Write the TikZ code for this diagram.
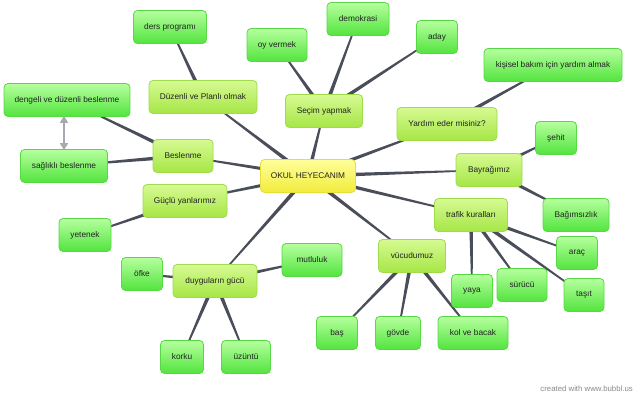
\documentclass[tikz,border=0pt]{standalone}
\usepackage{fontspec}
\setmainfont{Liberation Sans}
\usetikzlibrary{calc,backgrounds,arrows.meta}
\definecolor{txt}{HTML}{222222}
\definecolor{linkc}{HTML}{4A4D5A}
\definecolor{cTop}{HTML}{FFFF9A}
\definecolor{cBot}{HTML}{F2EC3C}
\definecolor{cBrd}{HTML}{E6DE3A}
\definecolor{lTop}{HTML}{D6FA92}
\definecolor{lBot}{HTML}{A6E646}
\definecolor{lBrd}{HTML}{9EDC4C}
\definecolor{gTop}{HTML}{B6FF9E}
\definecolor{gBot}{HTML}{52E43E}
\definecolor{gBrd}{HTML}{58D844}
\definecolor{arrc}{HTML}{A8A8B0}
\definecolor{credit}{HTML}{8A8A8A}
\newcommand\lnk[2]{%
  \path[fill=linkc] let \p1=(#1.center), \p2=(#2.center),
    \n1={atan2(\y2-\y1,\x2-\x1)} in
    ($(\p1)+(\n1+90:2.1pt)$) -- ($(\p2)+(\n1+90:0.6pt)$) --
    ($(\p2)+(\n1-90:0.6pt)$) -- ($(\p1)+(\n1-90:2.1pt)$) -- cycle;}
\tikzset{
  box/.style={rounded corners=4pt, line width=0.8pt, minimum height=33pt,
    inner sep=2pt, font=\fontsize{8.3}{10}\selectfont, text=txt},
  centerbox/.style={box, top color=cTop, bottom color=cBot, draw=cBrd},
  lvlbox/.style={box, top color=lTop, bottom color=lBot, draw=lBrd},
  leafbox/.style={box, top color=gTop, bottom color=gBot, draw=gBrd},
  dblarrow/.style={draw=arrc, line width=1.5pt,
    {Triangle[width=8pt,length=7pt]}-{Triangle[width=8pt,length=7pt]}}
}
\begin{document}
\begin{tikzpicture}[x=1pt,y=-1pt]
\useasboundingbox (0,0) rectangle (640,400);
% center
\node[centerbox, minimum width=95pt] (okul) at (308,176) {OKUL HEYECANIM};
% level 1
\node[lvlbox, minimum width=108pt] (duzenli) at (203,97) {Düzenli ve Planlı olmak};
\node[lvlbox, minimum width=77pt] (secim) at (324,111) {Seçim yapmak};
\node[lvlbox, minimum width=100pt] (yardim) at (447,124) {Yardım eder misiniz?};
\node[lvlbox, minimum width=60pt] (beslenme) at (183,156) {Beslenme};
\node[lvlbox, minimum width=66pt] (bayrak) at (489,170) {Bayrağımız};
\node[lvlbox, minimum width=84pt] (guclu) at (185,201) {Güçlü yanlarımız};
\node[lvlbox, minimum width=73pt] (trafik) at (471,215) {trafik kuralları};
\node[lvlbox, minimum width=67pt] (vucut) at (412,256) {vücudumuz};
\node[lvlbox, minimum width=84pt] (duygu) at (215,281) {duyguların gücü};
% leaves
\node[leafbox, minimum width=73pt] (ders) at (170,27) {ders programı};
\node[leafbox, minimum width=60pt] (oy) at (277,45) {oy vermek};
\node[leafbox, minimum width=62pt] (demo) at (358,19) {demokrasi};
\node[leafbox, minimum width=41pt] (aday) at (437,37) {aday};
\node[leafbox, minimum width=138pt] (kisisel) at (553,65) {kişisel bakım için yardım almak};
\node[leafbox, minimum width=126pt] (dengeli) at (67,100) {dengeli ve düzenli beslenme};
\node[leafbox, minimum width=87pt] (saglikli) at (64,166) {sağlıklı beslenme};
\node[leafbox, minimum width=41pt] (sehit) at (556,138) {şehit};
\node[leafbox, minimum width=66pt] (bagimsiz) at (576,215) {Bağımsızlık};
\node[leafbox, minimum width=52pt] (yetenek) at (85,235) {yetenek};
\node[leafbox, minimum width=60pt] (mutluluk) at (312,260) {mutluluk};
\node[leafbox, minimum width=41pt] (arac) at (577,253) {araç};
\node[leafbox, minimum width=41pt] (ofke) at (142,274) {öfke};
\node[leafbox, minimum width=41pt] (yaya) at (472,291) {yaya};
\node[leafbox, minimum width=50pt] (surucu) at (522,285) {sürücü};
\node[leafbox, minimum width=40pt] (tasit) at (584,295) {taşıt};
\node[leafbox, minimum width=41pt] (bas) at (337,333) {baş};
\node[leafbox, minimum width=45pt] (govde) at (398,333) {gövde};
\node[leafbox, minimum width=70pt] (kol) at (473,333) {kol ve bacak};
\node[leafbox, minimum width=43pt] (korku) at (182,357) {korku};
\node[leafbox, minimum width=49pt] (uzuntu) at (246,357) {üzüntü};
% credit
\node[font=\fontsize{7.8}{9}\selectfont, text=credit, anchor=east, inner sep=0pt] (credit) at (633,389) {created with www.bubbl.us};
% links
\begin{scope}[on background layer]
\fill[white] (0,0) rectangle (640,400);
\lnk{okul}{duzenli}
\lnk{okul}{secim}
\lnk{okul}{yardim}
\lnk{okul}{beslenme}
\lnk{okul}{bayrak}
\lnk{okul}{guclu}
\lnk{okul}{trafik}
\lnk{okul}{vucut}
\lnk{okul}{duygu}
\lnk{duzenli}{ders}
\lnk{secim}{oy}
\lnk{secim}{demo}
\lnk{secim}{aday}
\lnk{yardim}{kisisel}
\lnk{beslenme}{dengeli}
\lnk{beslenme}{saglikli}
\lnk{bayrak}{sehit}
\lnk{bayrak}{bagimsiz}
\lnk{guclu}{yetenek}
\lnk{trafik}{yaya}
\lnk{trafik}{surucu}
\lnk{trafik}{tasit}
\lnk{trafik}{arac}
\lnk{vucut}{bas}
\lnk{vucut}{govde}
\lnk{vucut}{kol}
\lnk{duygu}{ofke}
\lnk{duygu}{mutluluk}
\lnk{duygu}{korku}
\lnk{duygu}{uzuntu}
\end{scope}
\draw[dblarrow] ([yshift=1pt]dengeli.south -| saglikli.north) -- ([yshift=-1pt]saglikli.north);
\end{tikzpicture}
\end{document}
